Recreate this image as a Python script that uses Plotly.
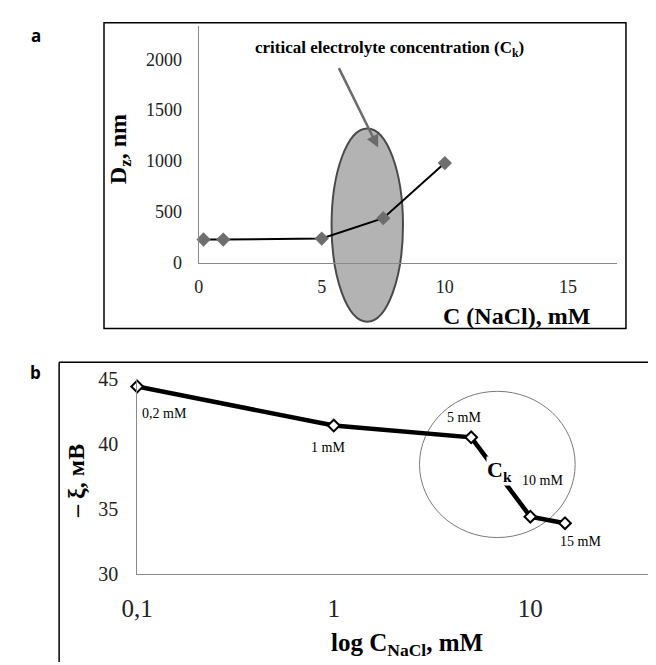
import math
import plotly.graph_objects as go

# ---------------- data ----------------
# panel a: hydrodynamic diameter vs NaCl concentration
a_conc = [0.2, 1, 5, 7.5, 10]
a_dz = [228, 227, 237, 438, 980]
a_xticks = [0, 5, 10, 15]
a_yticks = [0, 500, 1000, 1500, 2000]

# panel b: zeta potential vs log NaCl concentration
b_conc = [0.1, 1, 5, 10, 15]
b_zeta = [44.4, 41.4, 40.5, 34.4, 33.9]
b_point_labels = ["0,2 mM", "1 mM", "5 mM", "10 mM", "15 mM"]
b_xtickvals = [0.1, 1, 10]
b_xticktext = ["0,1", "1", "10"]
b_yticks = [30, 35, 40, 45]

# critical-concentration highlight regions (data units)
a_ellipse_x = [5.4, 8.3]
a_ellipse_y = [-580, 1320]
b_circle_x = [2.73, 16.9]
b_circle_y = [32.8, 44.03]

# ---------------- layout geometry ----------------
W, H = 656, 665
SERIF = "Liberation Serif, serif"

ax_dom_x = [179 / W, 608 / W]
ax_dom_y = [1 - 252 / H, 1 - 7 / H]
a_xrange = [0, 17]
a_yrange = [0, 2330]

bx_dom_x = [116 / W, 650 / W]
bx_dom_y = [1 - 574 / H, 1 - 372 / H]
b_xrange = [-1, 1.65]
b_yrange = [30, 45]


def lin_to_paper(v, rng, dom):
    return dom[0] + (v - rng[0]) / (rng[1] - rng[0]) * (dom[1] - dom[0])


def log_to_paper(v, rng, dom):
    return lin_to_paper(math.log10(v), rng, dom)


fig = go.Figure()

fig.add_trace(go.Scatter(
    x=a_conc, y=a_dz, mode="lines+markers", xaxis="x", yaxis="y",
    line=dict(color="black", width=2),
    marker=dict(symbol="diamond", size=11, color="#6e6e6e"),
    showlegend=False, cliponaxis=False,
))

fig.add_trace(go.Scatter(
    x=b_conc, y=b_zeta, mode="lines+markers", xaxis="x2", yaxis="y2",
    line=dict(color="black", width=4.5),
    marker=dict(symbol="diamond", size=9, color="white",
                line=dict(color="black", width=2)),
    showlegend=False, cliponaxis=False,
))

axis_common = dict(showgrid=False, zeroline=False, showline=True,
                   linecolor="#8a8a8a", linewidth=1, ticks="")

fig.update_layout(
    width=W, height=H,
    margin=dict(l=0, r=0, t=0, b=0),
    paper_bgcolor="white", plot_bgcolor="rgba(0,0,0,0)",
    xaxis=dict(domain=ax_dom_x, range=a_xrange, tickvals=a_xticks,
               tickfont=dict(family=SERIF, size=18, color="#222"),
               anchor="y", ticklabelstandoff=8, **axis_common),
    yaxis=dict(domain=ax_dom_y, range=a_yrange, tickvals=a_yticks,
               tickfont=dict(family=SERIF, size=18, color="#222"),
               anchor="x", ticklabelstandoff=12, **axis_common),
    xaxis2=dict(domain=bx_dom_x, type="log", range=b_xrange,
                tickvals=b_xtickvals, ticktext=b_xticktext,
                tickfont=dict(family=SERIF, size=25, color="#222"),
                anchor="y2", ticklabelstandoff=12, **axis_common),
    yaxis2=dict(domain=bx_dom_y, range=b_yrange, tickvals=b_yticks,
                tickfont=dict(family=SERIF, size=20, color="#222"),
                anchor="x2", ticklabelstandoff=14, **axis_common),
)

shapes = []
# panel frames
shapes.append(dict(type="rect", xref="paper", yref="paper",
                   x0=82 / W, x1=617 / W, y0=1 - 320 / H, y1=1 - 4 / H,
                   line=dict(color="black", width=1.5), layer="below"))
shapes.append(dict(type="line", xref="paper", yref="paper",
                   x0=36 / W, x1=1, y0=1 - 355 / H, y1=1 - 355 / H,
                   line=dict(color="black", width=1.5)))
shapes.append(dict(type="line", xref="paper", yref="paper",
                   x0=36 / W, x1=36 / W, y0=0, y1=1 - 355 / H,
                   line=dict(color="black", width=1.5)))
# panel a ellipse
shapes.append(dict(type="circle", xref="paper", yref="paper", layer="below",
                   x0=lin_to_paper(a_ellipse_x[0], a_xrange, ax_dom_x),
                   x1=lin_to_paper(a_ellipse_x[1], a_xrange, ax_dom_x),
                   y0=lin_to_paper(a_ellipse_y[0], a_yrange, ax_dom_y),
                   y1=lin_to_paper(a_ellipse_y[1], a_yrange, ax_dom_y),
                   fillcolor="#b3b3b3", line=dict(color="#4a4a4a", width=2)))
# panel b circle
shapes.append(dict(type="circle", xref="paper", yref="paper", layer="below",
                   x0=log_to_paper(b_circle_x[0], b_xrange, bx_dom_x),
                   x1=log_to_paper(b_circle_x[1], b_xrange, bx_dom_x),
                   y0=lin_to_paper(b_circle_y[0], b_yrange, bx_dom_y),
                   y1=lin_to_paper(b_circle_y[1], b_yrange, bx_dom_y),
                   line=dict(color="#7a7a7a", width=1)))
fig.update_layout(shapes=shapes)


def label(text, px, py, size, angle=0, family=SERIF, xanchor="center"):
    return dict(text=text, x=px / W, y=1 - py / H, xref="paper", yref="paper",
                xanchor=xanchor, yanchor="middle", textangle=angle,
                showarrow=False, font=dict(family=family, size=size, color="black"))


ann = []
# panel letters
ann.append(label("<b>a</b>", 12, 17, 17, family="Open Sans"))
ann.append(label("<b>b</b>", 12, 366, 17, family="Open Sans"))
# panel a titles
ann.append(label("<b>D<sub>z</sub>, nm</b>", 98, 135, 24, angle=-90))
ann.append(label("<b>C (NaCl), mM</b>", 582, 307, 24, xanchor="right"))
ann.append(label("<b>critical electrolyte concentration (C<sub>k</sub>)</b>", 375, 31, 17))
ann.append(dict(text="", x=363 / W, y=1 - 133 / H, xref="paper", yref="paper",
                ax=-40, ay=-81, showarrow=True, arrowhead=2, arrowsize=1,
                arrowwidth=2.5, arrowcolor="#6b6b6b"))
# panel b titles
ann.append(label("<b>– ξ, мВ</b>", 53, 478, 24, angle=-90))
ann.append(label("<b>log C<sub>NaCl</sub>, mM</b>", 393, 647, 25))
# point labels panel b
label_shift = [(27, -27), (-6, -22), (-7, 20), (12, 36), (16, -18)]
for xv, yv, lab, (dx, dy) in zip(b_conc, b_zeta, b_point_labels, label_shift):
    ann.append(dict(text=lab, x=math.log10(xv), y=yv, xref="x2", yref="y2",
                    xanchor="center", yanchor="middle",
                    xshift=dx, yshift=dy, showarrow=False,
                    font=dict(family=SERIF, size=14, color="black")))
# C_k marker label on the line
ann.append(dict(text="<b>C<sub>k</sub></b>", x=math.log10(6.93), y=37.9,
                xref="x2", yref="y2", xanchor="center", yanchor="middle",
                showarrow=False, bgcolor="white", borderpad=0,
                font=dict(family=SERIF, size=22, color="black")))
fig.update_layout(annotations=ann)

fig.write_html("out.html")
